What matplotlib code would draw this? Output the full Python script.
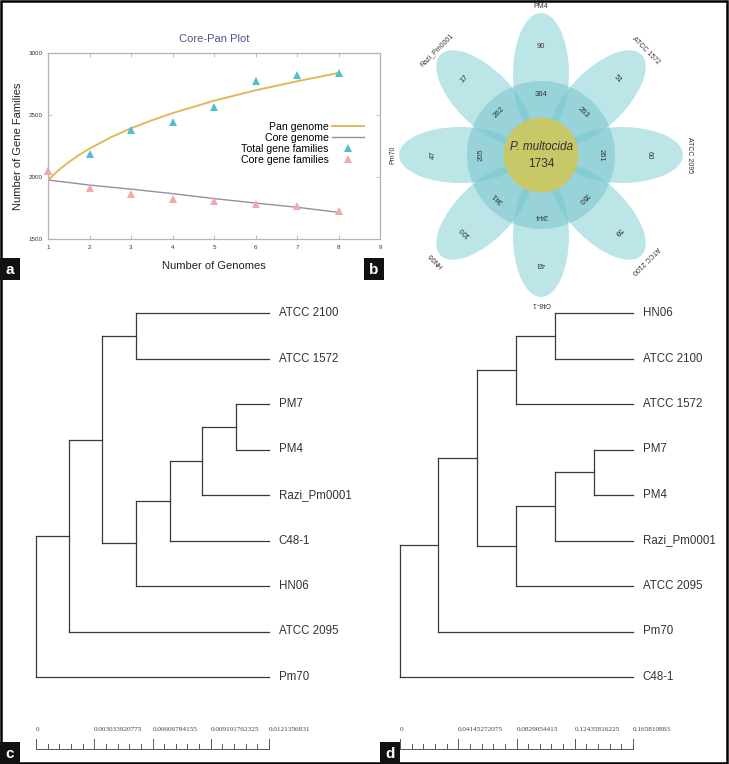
import numpy as np
import matplotlib
matplotlib.use("Agg")
import matplotlib.pyplot as plt
from matplotlib.patches import Ellipse, Circle, Rectangle

plt.rcParams['font.family'] = ['Liberation Sans', 'DejaVu Sans']

W, H = 729, 764

# ---- panel a: core / pan genome ----
genomes = [1, 2, 3, 4, 5, 6, 7, 8]
total_families = [2048, 2188, 2379, 2444, 2567, 2777, 2823, 2839]
core_families = [2048, 1909, 1866, 1823, 1809, 1785, 1768, 1728]
pan_x = [1, 1.25, 1.5, 1.75, 2, 2.5, 3, 3.5, 4, 5, 6, 7, 8]
pan_fit = [1976, 2054, 2120, 2178, 2229, 2318, 2393, 2457, 2515, 2615, 2699, 2772, 2839]
core_fit = [1976, 1935, 1902, 1866, 1826, 1790, 1756, 1715]

# ---- panel b: flower venn ----
strains = ['PM4', 'ATCC 1572', 'ATCC 2095', 'ATCC 2100', 'C48-1', 'HN06', 'Pm70', 'Razi_Pm0001']
petal_angles = [90, 45, 0, -45, -90, -135, 180, 135]
unique_counts = [90, 51, 60, 59, 43, 100, 47, 17]
ring_counts = [364, 263, 261, 350, 244, 341, 205, 262]
core_count = 1734

# ---- panels c, d: trees (node = (depth, upper, lower)) ----
c_max = 0.0121356831
tree_c = (0.0, (0.001719, (0.003438, (0.005208, 'ATCC 2100', 'ATCC 1572'),
                           (0.005208, (0.006979, (0.008646, (0.010417, 'PM7', 'PM4'),
                                                  'Razi_Pm0001'), 'C48-1'), 'HN06')),
                'ATCC 2095'), 'Pm70')
c_scale = ['0', '0.003033920775', '0.00606784155', '0.009101762325', '0.0121356831']

d_max = 0.165810883
tree_d = (0.0, (0.02704, (0.05480, (0.08255, (0.11031, 'HN06', 'ATCC 2100'), 'ATCC 1572'),
                          (0.08255, (0.11031, (0.13806, 'PM7', 'PM4'), 'Razi_Pm0001'),
                           'ATCC 2095')), 'Pm70'), 'C48-1')
d_scale = ['0', '0.04145272075', '0.0829054415', '0.12435816225', '0.165810883']

fig = plt.figure(figsize=(W / 100, H / 100), dpi=100)


def px_axes(x0, y0, x1, y1):
    return fig.add_axes([x0 / W, 1 - y1 / H, (x1 - x0) / W, (y1 - y0) / H])


# panel a
ax = px_axes(48, 53, 380, 239)
spine_col = '#bfb0b0'
ax.plot(pan_x, pan_fit, color='#e2b85c', lw=1.4, label='Pan genome', zorder=2)
ax.plot(genomes, core_fit, color='#9c8aa6', lw=1.0, label='Core genome', zorder=2)
ax.plot(genomes, total_families, ls='none', marker='^', ms=6.3, mew=0, color='#4fc0cc',
        label='Total gene families', zorder=3, clip_on=False)
ax.plot(genomes, core_families, ls='none', marker='^', ms=6.3, mew=0, color='#f2a9a9',
        label='Core gene families', zorder=3, clip_on=False)
ax.set_xlim(1, 9)
ax.set_ylim(1500, 3000)
ax.set_xticks(range(1, 10))
ax.set_yticks([1500, 2000, 2500, 3000])
ax.tick_params(direction='in', length=3, width=0.6, color=spine_col, labelsize=4.5,
               labelcolor='#333333', top=True, right=True, pad=4)
for s in ax.spines.values():
    s.set_color(spine_col)
    s.set_linewidth(0.9)
ax.set_title('Core-Pan Plot', fontsize=8, color='#4a5590', pad=8)
ax.set_ylabel('Number of Gene Families', fontsize=8, color='#222222', labelpad=4)
ax.set_xlabel('Number of Genomes', fontsize=8, color='#222222', labelpad=8)
ax.legend(loc='center right', bbox_to_anchor=(0.97, 0.515), frameon=False, markerfirst=False,
          fontsize=7.6, handlelength=3.0, handletextpad=0.3, labelspacing=0.1,
          borderpad=0.1)

# panel b
axb = px_axes(385, 0, 728, 310)
axb.set_xlim(385, 728)
axb.set_ylim(310, 0)
axb.axis('off')
cx, cy = 541, 155
for ang in petal_angles:
    a = np.radians(ang)
    axb.add_patch(Ellipse((cx + 81 * np.cos(a), cy - 81 * np.sin(a)), 122, 56, angle=-ang,
                          facecolor='#94d5da', edgecolor='none', alpha=0.62, zorder=1))
axb.add_patch(Circle((cx, cy), 74, facecolor='#4aaebb', edgecolor='none', alpha=0.32, zorder=2))
axb.add_patch(Circle((cx, cy), 37.5, facecolor='#c9c868', edgecolor='none', zorder=3))
for name, ang, n_u, n_r in zip(strains, petal_angles, unique_counts, ring_counts):
    a = np.radians(ang)
    rot = ang - 90
    axb.text(cx + 108 * np.cos(a), cy - 108 * np.sin(a), str(n_u), rotation=rot,
             ha='center', va='center', fontsize=5.5, color='#333333', zorder=4,
             rotation_mode='anchor')
    axb.text(cx + 60 * np.cos(a), cy - 60 * np.sin(a), str(n_r), rotation=rot,
             ha='center', va='center', fontsize=5.5, color='#333333', zorder=4,
             rotation_mode='anchor')
    axb.text(cx + 148 * np.cos(a), cy - 148 * np.sin(a), name, rotation=rot,
             ha='center', va='center', fontsize=5, color='#333333', zorder=4,
             rotation_mode='anchor')
axb.text(cx, cy - 8, 'P. multocida', style='italic', ha='center', va='center',
         fontsize=8.5, color='#333333', zorder=4)
axb.text(cx, cy + 9, str(core_count), ha='center', va='center', fontsize=8.5,
         color='#333333', zorder=4)


def draw_tree(axt, node, leaf_x, order):
    if isinstance(node, str):
        y = len(order)
        order.append(node)
        axt.annotate(node, (leaf_x, y), xytext=(7, 0), textcoords='offset points',
                     ha='left', va='center', fontsize=8.3, color='#333333')
        return leaf_x, y
    x, upper, lower = node
    ux, uy = draw_tree(axt, upper, leaf_x, order)
    lx, ly = draw_tree(axt, lower, leaf_x, order)
    kw = dict(color='#3a3a3a', lw=0.9, solid_capstyle='projecting', clip_on=False)
    axt.plot([x, x], [uy, ly], **kw)
    axt.plot([x, ux], [uy, uy], **kw)
    axt.plot([x, lx], [ly, ly], **kw)
    return x, (uy + ly) / 2


def tree_panel(box, tree, tmax, scale_labels):
    axt = px_axes(*box)
    axt.set_xlim(0, tmax)
    axt.set_ylim(8, 0)
    axt.axis('off')
    draw_tree(axt, tree, tmax, [])
    # scale bar
    sc = dict(color='#555555', lw=0.7, clip_on=False)
    axt.plot([0, tmax], [9.58, 9.58], **sc)
    for i, t in enumerate(np.linspace(0, tmax, 21)):
        top = 9.36 if i % 5 == 0 else 9.47
        axt.plot([t, t], [9.58, top], **sc)
    for t, lab in zip(np.linspace(0, tmax, 5), scale_labels):
        axt.text(t, 9.16, lab, ha='left', va='center', fontsize=5.2, color='#444444',
                 family=['Liberation Serif', 'DejaVu Serif'], clip_on=False)
    return axt


tree_panel((36, 313, 269, 677), tree_c, c_max, c_scale)
tree_panel((400, 313, 633, 677), tree_d, d_max, d_scale)

# frame and panel letters
axf = fig.add_axes([0, 0, 1, 1], zorder=10)
axf.set_xlim(0, W)
axf.set_ylim(H, 0)
axf.axis('off')
axf.add_patch(Rectangle((1, 1), W - 2.5, H - 2.5, fill=False, edgecolor='black', lw=1.8))
for letter, (lx, ly) in zip('abcd', [(0, 258), (364, 258), (0, 742), (380, 742)]):
    axf.add_patch(Rectangle((lx, ly), 20, 22, facecolor='#111111', edgecolor='none'))
    axf.text(lx + 10, ly + 11.5, letter, color='white', fontsize=11, fontweight='bold',
             ha='center', va='center')

fig.savefig('out.png', dpi=100)
